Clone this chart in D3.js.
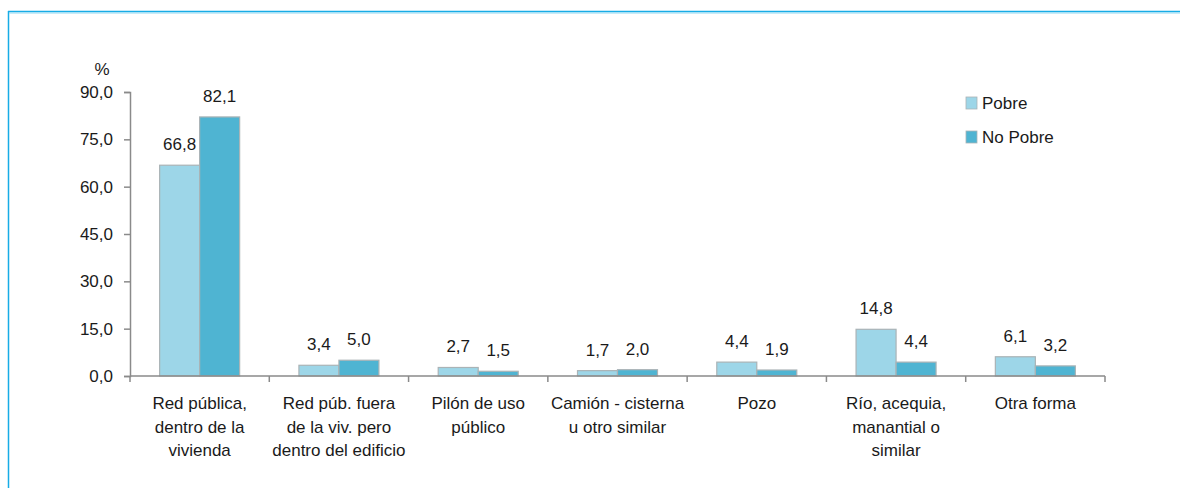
<!DOCTYPE html>
<html lang="es">
<head>
	<meta charset="UTF-8">
	<title>Abastecimiento de agua</title>
	<script type="text/javascript" src="https://d3js.org/d3.v7.min.js"></script>
	<style>
		body { margin: 0; background: #fff; }
		svg text { font-family: "Liberation Sans Narrow", "Arial Narrow", "Liberation Sans", Arial, sans-serif; fill: #1a1a1a; }
	</style>
</head>
<body>
	<svg id="chart"></svg>

	<script type="text/javascript">
		var width = 1180;
		var height = 488;

		// categories (multi-line labels) and series
		var categories = [
			["Red pública,", "dentro de la", "vivienda"],
			["Red púb. fuera", "de la viv. pero", "dentro del edificio"],
			["Pilón de uso", "público"],
			["Camión - cisterna", "u otro similar"],
			["Pozo"],
			["Río, acequia,", "manantial o", "similar"],
			["Otra forma"]
		];
		var seriesNames = ["Pobre", "No Pobre"];
		var pobre = [66.8, 3.4, 2.7, 1.7, 4.4, 14.8, 6.1];
		var noPobre = [82.1, 5.0, 1.5, 2.0, 1.9, 4.4, 3.2];
		var yTicks = [0, 15, 30, 45, 60, 75, 90];
		var colors = ["#9dd6e8", "#4fb4d2"];

		var svg = d3.select("#chart").attr("width", width).attr("height", height);

		// frame
		svg.append("line").attr("x1", 8).attr("x2", width).attr("y1", 11.5).attr("y2", 11.5)
			.attr("stroke", "#17ace6").attr("stroke-width", 1.5);
		svg.append("line").attr("x1", 9.5).attr("x2", width).attr("y1", 13).attr("y2", 13)
			.attr("stroke", "#8fd8f2").attr("stroke-width", 1);
		svg.append("line").attr("x1", 8.5).attr("x2", 8.5).attr("y1", 11).attr("y2", height)
			.attr("stroke", "#17ace6").attr("stroke-width", 1.5);

		var plotLeft = 130, plotRight = 1105, plotTop = 92, plotBottom = 376;
		var fs = 17;

		var x = d3.scaleBand().domain(d3.range(categories.length)).range([plotLeft, plotRight]).padding(0);
		var y = d3.scaleLinear().domain([0, 90]).range([plotBottom, plotTop]);
		var barW = 40;

		var data = [];
		categories.forEach(function(c, i) {
			data.push({ i: i, s: 0, v: pobre[i] });
			data.push({ i: i, s: 1, v: noPobre[i] });
		});

		function barX(d) {
			return x(d.i) + x.bandwidth() / 2 - barW + d.s * barW;
		}

		svg.selectAll("rect.bar").data(data).enter().append("rect")
			.attr("class", "bar")
			.attr("x", barX)
			.attr("y", function(d) { return y(d.v); })
			.attr("width", barW)
			.attr("height", function(d) { return plotBottom - y(d.v); })
			.attr("fill", function(d) { return colors[d.s]; })
			.attr("stroke", "#aab3b6")
			.attr("stroke-width", 1.2);

		svg.selectAll("text.val").data(data).enter().append("text")
			.attr("class", "val")
			.attr("x", function(d) { return barX(d) + barW / 2; })
			.attr("y", function(d) { return y(d.v) - 15; })
			.attr("text-anchor", "middle")
			.attr("font-size", fs)
			.text(function(d) { return d.v.toFixed(1).replace(".", ","); });

		// y axis
		var axisY = d3.axisLeft(y).tickValues(yTicks).tickSize(6).tickPadding(11)
			.tickFormat(function(d) { return d.toFixed(1).replace(".", ","); });
		var gy = svg.append("g").attr("transform", "translate(" + plotLeft + ",0)").call(axisY);
		gy.select(".domain").attr("stroke", "#8a8a8a").attr("stroke-width", 1.5);
		gy.selectAll(".tick line").attr("stroke", "#8a8a8a").attr("stroke-width", 1.5);
		gy.selectAll(".tick text").attr("font-size", fs).attr("fill", "#1a1a1a");
		gy.attr("font-family", null).attr("font-size", null);

		svg.append("text").attr("x", 102).attr("y", 75).attr("text-anchor", "middle")
			.attr("font-size", fs).text("%");

		// x axis
		var gx = svg.append("g").attr("transform", "translate(0," + plotBottom + ")");
		gx.append("line").attr("x1", plotLeft).attr("x2", plotRight).attr("y1", 0).attr("y2", 0)
			.attr("stroke", "#8a8a8a").attr("stroke-width", 1.5);
		gx.selectAll("line.tk").data(d3.range(categories.length + 1)).enter().append("line")
			.attr("class", "tk")
			.attr("x1", function(d) { return plotLeft + d * x.step(); })
			.attr("x2", function(d) { return plotLeft + d * x.step(); })
			.attr("y1", 0).attr("y2", 6)
			.attr("stroke", "#8a8a8a").attr("stroke-width", 1.5);

		var labels = gx.selectAll("text.cat").data(categories).enter().append("text")
			.attr("class", "cat")
			.attr("text-anchor", "middle")
			.attr("font-size", fs);
		labels.each(function(lines, i) {
			var t = d3.select(this);
			lines.forEach(function(l, k) {
				t.append("tspan").attr("x", x(i) + x.bandwidth() / 2).attr("y", 33 + k * 23.5).text(l);
			});
		});

		// legend
		var lg = svg.append("g");
		seriesNames.forEach(function(n, i) {
			lg.append("rect").attr("x", 966).attr("y", 97 + i * 34).attr("width", 11).attr("height", 12)
				.attr("fill", colors[i]).attr("stroke", "#aab3b6").attr("stroke-width", 0.8);
			lg.append("text").attr("x", 982).attr("y", 109 + i * 34).attr("font-size", fs).text(n);
		});
	</script>
</body>
</html>
